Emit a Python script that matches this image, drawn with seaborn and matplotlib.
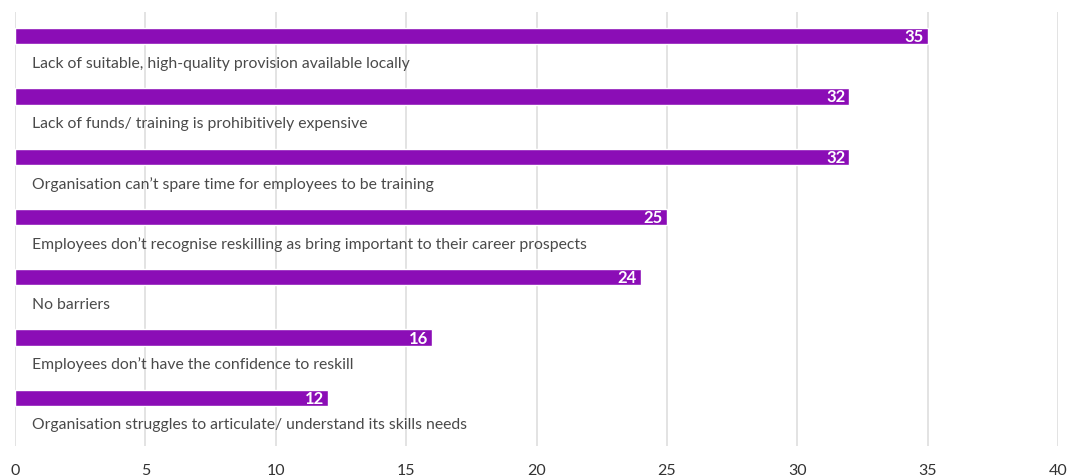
import matplotlib
matplotlib.use("Agg")
import matplotlib.pyplot as plt
import seaborn as sns
import pandas as pd

barriers = [
    "Lack of suitable, high-quality provision available locally",
    "Lack of funds/ training is prohibitively expensive",
    "Organisation can\u2019t spare time for employees to be training",
    "Employees don\u2019t recognise reskilling as bring important to their career prospects",
    "No barriers",
    "Employees don\u2019t have the confidence to reskill",
    "Organisation struggles to articulate/ understand its skills needs",
]
percent = [35, 32, 32, 25, 24, 16, 12]
x_ticks = [0, 5, 10, 15, 20, 25, 30, 35, 40]

sns.set_theme(style="white")
plt.rcParams["font.family"] = ["Lato", "DejaVu Sans"]

df = pd.DataFrame({"barrier": barriers, "percent": percent})

W, H = 1067, 477
fig = plt.figure(figsize=(W / 100, H / 100), dpi=100)
ax = fig.add_axes([15 / W, (H - 447) / H, (1058 - 15) / W, (447 - 13) / H])

sns.barplot(data=df, x="percent", y="barrier", orient="h", color="#8B0DB6",
            width=0.27, saturation=1, ax=ax, zorder=3)

ax.set_xlim(0, 40)
ax.set_ylim(6.8, -0.4)
ax.set_xticks(x_ticks)
ax.set_xticklabels([str(t) for t in x_ticks])
ax.set_yticks([])
ax.set_xlabel("")
ax.set_ylabel("")
ax.xaxis.grid(True, color="#e3e3e3", linewidth=1.4, zorder=0)
ax.tick_params(axis="x", length=0, pad=12, labelsize=11.5, labelcolor="#333333")
for s in ax.spines.values():
    s.set_visible(False)

for i, (name, val) in enumerate(zip(barriers, percent)):
    ax.text(0.65, i + 0.44, name, ha="left", va="center", fontsize=11.3,
            color="#4a4a4a", zorder=4)
    ax.text(val - 0.15, i, str(val), ha="right", va="center", fontsize=12,
            fontweight="bold", color="white", zorder=4)

fig.savefig("out.png", dpi=100)
